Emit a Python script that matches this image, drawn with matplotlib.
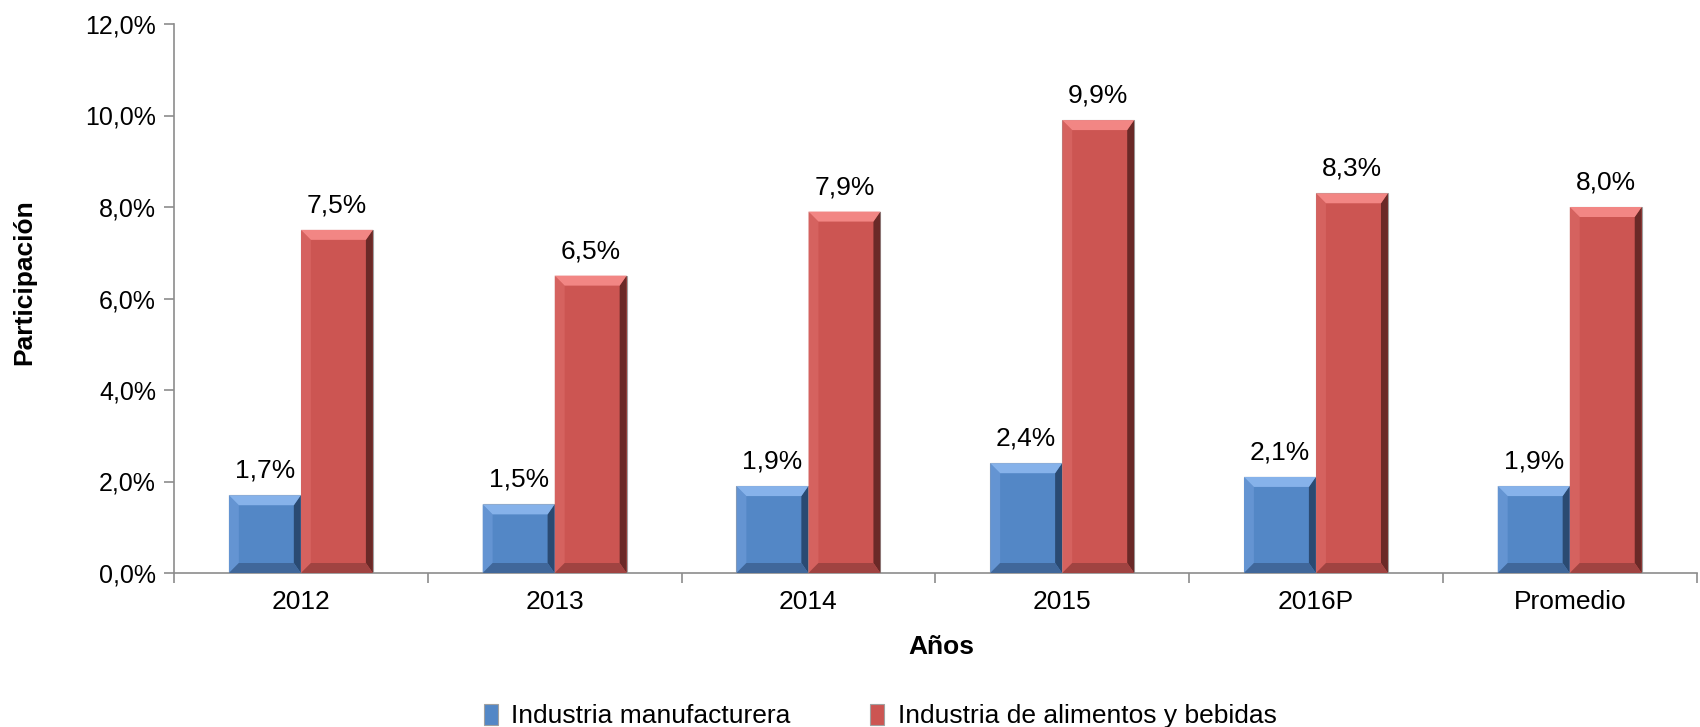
import numpy as np
import matplotlib
matplotlib.use("Agg")
import matplotlib.pyplot as plt
import matplotlib.ticker as tck
from matplotlib.patches import Polygon

categories = ["2012", "2013", "2014", "2015", "2016P", "Promedio"]
manufacturera = [1.7, 1.5, 1.9, 2.4, 2.1, 1.9]
alimentos = [7.5, 6.5, 7.9, 9.9, 8.3, 8.0]
series_names = ["Industria manufacturera", "Industria de alimentos y bebidas"]

plt.rcParams["font.family"] = ["Liberation Sans", "DejaVu Sans"]

W, H, DPI = 17.0, 7.27, 100
fig = plt.figure(figsize=(W, H), dpi=DPI)
ax = fig.add_axes([174 / 1700, 1 - 573 / 727, 1 - 174 / 1700 - 0.002, (573 - 24) / 727])

x = np.arange(len(categories))
width = 0.283
XLIM = (-0.5, 5.44)
YLIM = (0, 12)
ax.set_xlim(*XLIM)
ax.set_ylim(*YLIM)

styles = [
    dict(face="#5387C6", top="#86B2EA", left="#6494D2", right="#2A4A72", bottom="#40679A"),
    dict(face="#CC5552", top="#F28684", left="#D5625F", right="#6A2927", bottom="#A04341"),
]

# pixel -> data conversion for bevel size
ax_w_px = ax.get_position().width * W * DPI
ax_h_px = ax.get_position().height * H * DPI
px_x = (XLIM[1] - XLIM[0]) / ax_w_px
px_y = (YLIM[1] - YLIM[0]) / ax_h_px
bev = 10

handles = []
for vals, off, st, name in zip([manufacturera, alimentos], [-0.142, 0.142], styles, series_names):
    bars = ax.bar(x + off, vals, width, color=st["face"], edgecolor="#A0A0A0",
                  linewidth=0.8, label=name, zorder=2)
    handles.append(bars)
    for r in bars:
        x0, y0 = r.get_x(), r.get_y()
        x1, y1 = x0 + r.get_width(), y0 + r.get_height()
        bx, by = bev * px_x, bev * px_y
        rx = 7 * px_x
        ax.add_patch(Polygon([(x0, y0), (x0, y1), (x0 + bx, y1 - by), (x0 + bx, y0 + by)],
                             closed=True, color=st["left"], lw=0, zorder=3))
        ax.add_patch(Polygon([(x1, y0), (x1, y1), (x1 - rx, y1 - by), (x1 - rx, y0 + by)],
                             closed=True, color=st["right"], lw=0, zorder=3))
        ax.add_patch(Polygon([(x0, y0), (x1, y0), (x1 - rx, y0 + by), (x0 + bx, y0 + by)],
                             closed=True, color=st["bottom"], lw=0, zorder=3))
        ax.add_patch(Polygon([(x0, y1), (x1, y1), (x1 - rx, y1 - by), (x0 + bx, y1 - by)],
                             closed=True, color=st["top"], lw=0, zorder=3))
    for r, v in zip(bars, vals):
        ax.annotate(("%.1f%%" % v).replace(".", ","),
                    (r.get_x() + r.get_width() / 2, r.get_height()),
                    xytext=(0, 9), textcoords="offset points",
                    ha="center", va="bottom", fontsize=19)

for s in ["top", "right"]:
    ax.spines[s].set_visible(False)
for s in ["left", "bottom"]:
    ax.spines[s].set_color("#8C8C8C")
    ax.spines[s].set_linewidth(1.2)

ax.yaxis.set_major_locator(tck.MultipleLocator(2))
ax.yaxis.set_major_formatter(tck.FuncFormatter(lambda v, p: ("%.1f%%" % v).replace(".", ",")))
ax.set_xticks(x)
ax.set_xticklabels(categories)
ax.set_xticks(np.arange(-0.5, len(categories), 1.0), minor=True)
ax.tick_params(axis="x", which="major", length=0, labelsize=19, pad=12)
ax.tick_params(axis="x", which="minor", length=7, color="#8C8C8C", width=1.2)
ax.tick_params(axis="y", length=7, color="#8C8C8C", width=1.2, labelsize=18, pad=6)

ax.set_xlabel("Años", fontsize=19, fontweight="bold")
ax.xaxis.set_label_coords((943 - 174) / 1526, -0.113)
fig.text(24 / 1700, 1 - 282 / 727, "Participación", rotation=90, ha="center", va="center",
         fontsize=19, fontweight="bold")

fig.legend(handles=handles, loc="center", bbox_to_anchor=(880 / 1700, 1 - 716 / 727),
           ncol=2, frameon=False, fontsize=19, handlelength=0.55, handleheight=0.85,
           columnspacing=3.0, handletextpad=0.5)

fig.savefig("out.png", dpi=DPI)
